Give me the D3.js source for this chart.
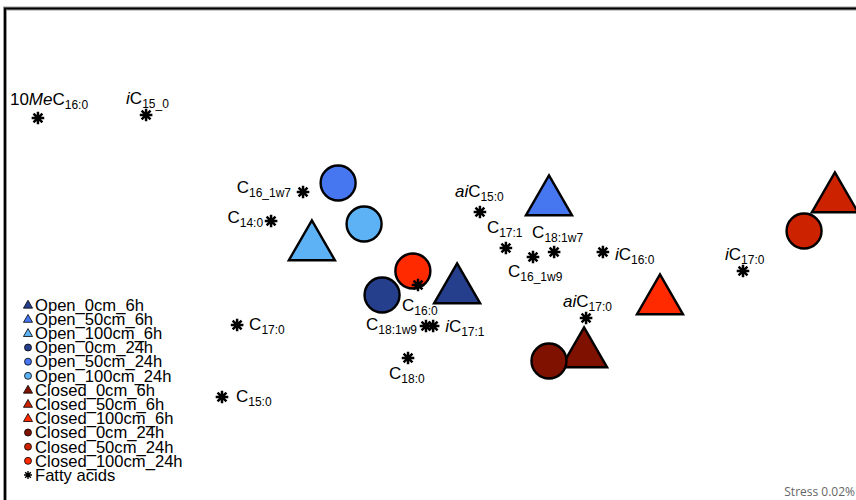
<!DOCTYPE html>
<html>
<head>
<meta charset="utf-8">
<script src="https://cdn.jsdelivr.net/npm/d3@7"></script>
<style>
  html, body { margin: 0; padding: 0; background: #fff; }
  svg { display: block; }
</style>
</head>
<body>
<div id="chart"></div>
<script>
// nMDS ordination of sediment samples and fatty acid vectors

// Samples (ordination coordinates)
const sampleNames = [
  "Open_0cm_6h", "Open_50cm_6h", "Open_100cm_6h",
  "Open_0cm_24h", "Open_50cm_24h", "Open_100cm_24h",
  "Closed_0cm_6h", "Closed_50cm_6h", "Closed_100cm_6h",
  "Closed_0cm_24h", "Closed_50cm_24h", "Closed_100cm_24h"
];
const sampleMDS1 = [0.102, 0.424, -0.407, -0.161, -0.315, -0.224, 0.547, 1.426, 0.813, 0.424, 1.318, -0.053];
const sampleMDS2 = [-0.160, 0.192, 0.012, -0.180, 0.268, 0.104, -0.416, 0.204, -0.204, -0.444, 0.076, -0.084];
const sampleShape = ["triangle", "triangle", "triangle", "circle", "circle", "circle",
                     "triangle", "triangle", "triangle", "circle", "circle", "circle"];
const sampleColor = ["#263f8c", "#4677f0", "#5cb2f5", "#263f8c", "#4677f0", "#5cb2f5",
                     "#7f1100", "#cc2200", "#ff2a00", "#7f1100", "#cc2200", "#ff2a00"];

// Fatty acids (ordination coordinates)
const acidNames = [
  "10MeC16:0", "iC15_0", "C16_1w7", "C14:0", "aiC15:0", "C17:1", "C18:1w7",
  "C16_1w9", "iC16:0", "iC17:0", "aiC17:0", "C16:0", "C18:1w9", "iC17:1",
  "C18:0", "C17:0", "C15:0"
];
const acidMDS1 = [-1.367, -0.988, -0.438, -0.550, 0.182, 0.273, 0.442, 0.368, 0.613, 1.104, 0.554, -0.035, -0.007, 0.018, -0.070, -0.669, -0.722];
const acidMDS2 = [0.528, 0.540, 0.232, 0.116, 0.152, 0.008, -0.008, -0.028, -0.008, -0.084, -0.272, -0.140, -0.304, -0.304, -0.432, -0.300, -0.588];

const stressText = "Stress 0.02%";

// Label placement relative to each fatty acid marker: [dx, dy, anchor]
const labelPlacement = {
  "10MeC16:0": [-28, -13, "start"],
  "iC15_0":    [-20, -11, "start"],
  "C16_1w7":   [-12, 1, "end"],
  "C14:0":     [-8, 2, "end"],
  "aiC15:0":   [-25, -15, "start"],
  "C17:1":     [-19, -15, "start"],
  "C18:1w7":   [-22, -14, "start"],
  "C16_1w9":   [-25, 20, "start"],
  "iC16:0":    [12, 8, "start"],
  "iC17:0":    [-18, -11, "start"],
  "aiC17:0":   [-23, -11, "start"],
  "C16:0":     [-16, 26, "start"],
  "C18:1w9":   [-9, 4, "end"],
  "iC17:1":    [12, 6, "start"],
  "C18:0":     [-19, 21, "start"],
  "C17:0":     [12, 5, "start"],
  "C15:0":     [14, 5, "start"]
};

const W = 856, H = 500;
const x = d3.scaleLinear().domain([-1.5, 1.5]).range([0, W]);
const y = d3.scaleLinear().domain([-1, 1]).range([H, 0]);

const svg = d3.select("#chart").append("svg")
  .attr("width", W).attr("height", H)
  .style("font-family", "'Liberation Sans', Arial, sans-serif");

// Plot frame (open at the right and bottom edges)
const framePath = `M5,${H + 20}V8.5H${W + 20}`;
svg.append("path").attr("d", framePath).attr("fill", "none")
  .attr("stroke", "#9a9a9a").attr("stroke-width", 4);
svg.append("path").attr("d", framePath).attr("fill", "none")
  .attr("stroke", "#000").attr("stroke-width", 2);

// Eight-armed asterisk marker
function asteriskPath(r) {
  let d = "";
  for (let k = 0; k < 4; k++) {
    const a = k * Math.PI / 4;
    const cx = Math.cos(a) * r, cy = Math.sin(a) * r;
    d += `M${-cx},${-cy}L${cx},${cy}`;
  }
  return d;
}

const samples = sampleNames.map((n, i) => ({
  name: n, mx: sampleMDS1[i], my: sampleMDS2[i], shape: sampleShape[i], color: sampleColor[i]
}));

const triSym = d3.symbol().type(d3.symbolTriangle).size(920);

// Triangles first, circles on top
const gSamples = svg.append("g");
gSamples.selectAll("path.tri")
  .data(samples.filter(d => d.shape === "triangle"))
  .join("path")
  .attr("class", "tri")
  .attr("d", triSym)
  .attr("transform", d => `translate(${x(d.mx)},${y(d.my)})`)
  .attr("fill", d => d.color)
  .attr("stroke", "#000").attr("stroke-width", 2.4)
  .attr("stroke-linejoin", "miter");

gSamples.selectAll("circle")
  .data(samples.filter(d => d.shape === "circle"))
  .join("circle")
  .attr("cx", d => x(d.mx)).attr("cy", d => y(d.my)).attr("r", 17.5)
  .attr("fill", d => d.color)
  .attr("stroke", "#000").attr("stroke-width", 2.4);

// Fatty acids
const acids = acidNames.map((n, i) => ({ name: n, mx: acidMDS1[i], my: acidMDS2[i] }));

const gAcids = svg.append("g");
gAcids.selectAll("path")
  .data(acids)
  .join("path")
  .attr("d", asteriskPath(6.3))
  .attr("transform", d => `translate(${x(d.mx)},${y(d.my)})`)
  .attr("stroke", "#000").attr("stroke-width", 2.5).attr("stroke-linecap", "butt");

// Split a fatty acid name into normal / italic / subscript pieces
function labelParts(name) {
  const m = name.match(/^(10)?(Me|ai|i)?C(.*)$/);
  const parts = [];
  if (m[1]) parts.push({ t: m[1], style: "normal" });
  if (m[2]) parts.push({ t: m[2], style: "italic" });
  parts.push({ t: "C", style: "normal" });
  parts.push({ t: m[3], style: "sub" });
  return parts;
}

const labels = svg.append("g")
  .selectAll("text")
  .data(acids)
  .join("text")
  .attr("x", d => x(d.mx) + labelPlacement[d.name][0])
  .attr("y", d => y(d.my) + labelPlacement[d.name][1])
  .attr("text-anchor", d => labelPlacement[d.name][2])
  .attr("font-size", 17)
  .attr("fill", "#000");

labels.each(function (d) {
  const t = d3.select(this);
  labelParts(d.name).forEach(p => {
    const ts = t.append("tspan").text(p.t);
    if (p.style === "italic") ts.attr("font-style", "italic");
    if (p.style === "sub") ts.attr("font-size", 12).attr("dy", 4);
  });
});

// Legend
const legendItems = sampleNames.map((n, i) => ({ name: n, shape: sampleShape[i], color: sampleColor[i] }))
  .concat([{ name: "Fatty acids", shape: "asterisk", color: "#000" }]);

const legend = svg.append("g").attr("transform", "translate(28,305)");
const smallTri = d3.symbol().type(d3.symbolTriangle).size(36);
const li = legend.selectAll("g")
  .data(legendItems)
  .join("g")
  .attr("transform", (d, i) => `translate(0,${i * 14.17})`);

li.filter(d => d.shape === "triangle").append("path")
  .attr("d", smallTri).attr("transform", "translate(0,0.5)")
  .attr("fill", d => d.color).attr("stroke", "#000").attr("stroke-width", 0.8);
li.filter(d => d.shape === "circle").append("circle")
  .attr("r", 3.5).attr("fill", d => d.color).attr("stroke", "#000").attr("stroke-width", 0.8);
li.filter(d => d.shape === "asterisk").append("path")
  .attr("d", asteriskPath(4)).attr("stroke", "#000").attr("stroke-width", 1.4);

li.append("text")
  .attr("x", 7).attr("y", 5.8)
  .attr("font-size", 16.6)
  .attr("fill", "#000")
  .text(d => d.name);

// Stress value
svg.append("text")
  .attr("x", 855).attr("y", 496)
  .attr("text-anchor", "end")
  .attr("font-family", "'Open Sans', sans-serif")
  .attr("font-size", 12)
  .attr("fill", "#666")
  .text(stressText);
</script>
</body>
</html>
